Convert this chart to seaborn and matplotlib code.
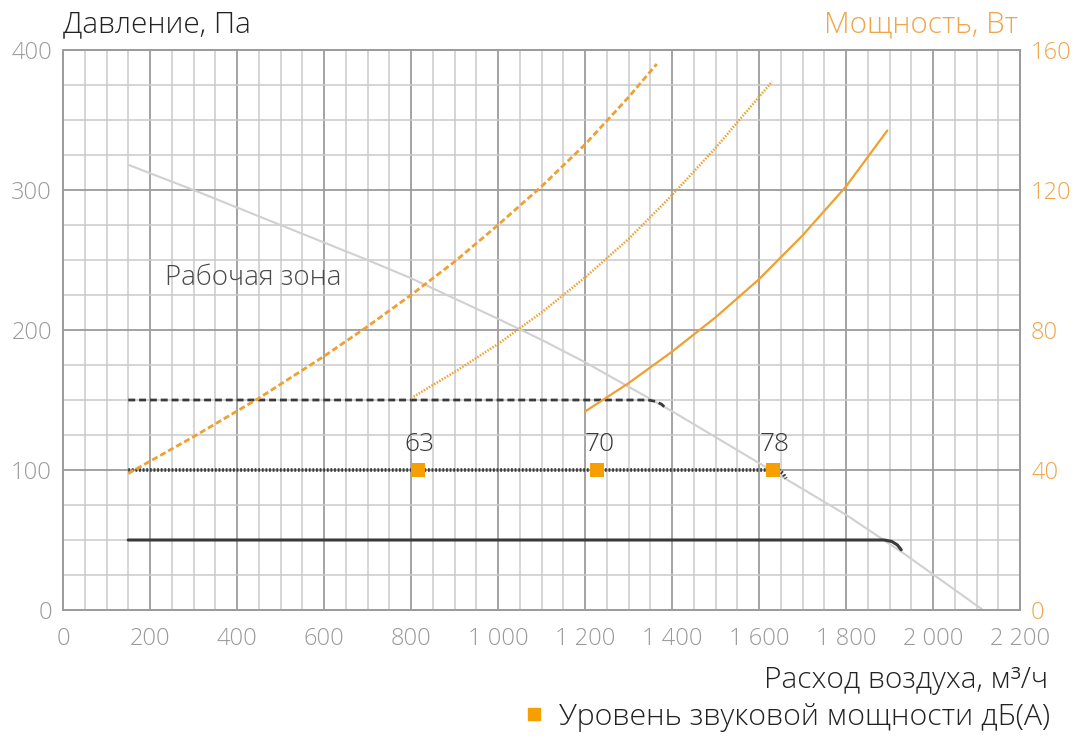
import matplotlib
matplotlib.use("Agg")
import matplotlib.pyplot as plt
from matplotlib.ticker import MultipleLocator, FuncFormatter
from matplotlib.lines import Line2D
import seaborn as sns

# Fan pressure curve (system limit), m3/h -> Pa
fan_flow = [150, 300, 500, 700, 800, 1000, 1100, 1200, 1400, 1600, 1800, 1930, 2115]
fan_pressure = [318, 300, 275, 250, 237, 208, 193, 177, 142, 105, 68, 41, 0]

# Operating points at three static pressures, Pa
op50_flow = [150, 1888, 1905, 1918, 1927]
op50_pressure = [50, 50, 49, 46.5, 43]
op100_flow = [150, 1645, 1655, 1662]
op100_pressure = [100, 100, 97.5, 94]
op150_flow = [150, 1345, 1362, 1376, 1386]
op150_pressure = [150, 150, 149, 147, 144]

# Power consumption, W
power150_flow = [150, 300, 450, 600, 700, 800, 900, 1000, 1100, 1200, 1300, 1365]
power150_watts = [39, 49.5, 60.5, 72.5, 81, 90, 99.5, 110, 121, 133, 146.5, 156]
power100_flow = [800, 900, 1000, 1100, 1200, 1300, 1400, 1500, 1630]
power100_watts = [60.5, 68, 76, 85, 95, 106, 118.5, 132, 151]
power50_flow = [1200, 1300, 1400, 1500, 1600, 1700, 1800, 1895]
power50_watts = [56.7, 64.8, 73.8, 83.6, 94.5, 107, 121, 137]

# Sound power level points, dB(A)
sound_flow = [815, 1228, 1632]
sound_pressure = [100, 100, 100]
sound_level = [63, 70, 78]

ORANGE = "#F0A030"
ORANGE_TXT = "#EFA54A"
DARK = "#3a3a3a"
TICK_GRAY = "#9a9a9a"

sns.set_theme(style="white")
plt.rcParams["font.family"] = ["Open Sans", "DejaVu Sans"]
plt.rcParams["font.weight"] = "light"

fig, ax = plt.subplots(figsize=(10.83, 7.36), dpi=100)
fig.subplots_adjust(left=63 / 1083, right=1020 / 1083, bottom=1 - 610 / 736, top=1 - 50 / 736)
ax2 = ax.twinx()

ax.set_xlim(0, 2200)
ax.set_ylim(0, 400)
ax2.set_ylim(0, 160)

ax.xaxis.set_major_locator(MultipleLocator(200))
ax.xaxis.set_minor_locator(MultipleLocator(50))
ax.yaxis.set_major_locator(MultipleLocator(100))
ax.yaxis.set_minor_locator(MultipleLocator(25))
ax2.yaxis.set_major_locator(MultipleLocator(40))

ax.grid(which="major", color="#9c9c9c", lw=1.3)
ax.grid(which="minor", color="#cacaca", lw=1.1)
ax.set_axisbelow(True)
ax2.grid(False)

for a in (ax, ax2):
    for s in a.spines.values():
        s.set_color("#9c9c9c")
        s.set_linewidth(1.3)
    a.tick_params(which="both", length=0)

ax.xaxis.set_major_formatter(FuncFormatter(lambda v, p: f"{int(v):,}".replace(",", " ")))
ax.tick_params(axis="x", labelsize=17, labelcolor=TICK_GRAY, pad=12)
ax.tick_params(axis="y", labelsize=17, labelcolor=TICK_GRAY, pad=8)
ax2.tick_params(axis="y", labelsize=17, labelcolor=ORANGE_TXT, pad=8)
ax.set_xlabel("")
ax.set_ylabel("")
ax2.set_ylabel("")

# Fan curve
sns.lineplot(x=fan_flow, y=fan_pressure, ax=ax, color="#d0d0d0", lw=1.5, estimator=None, sort=False)

# Operating curves
sns.lineplot(x=op50_flow, y=op50_pressure, ax=ax, color=DARK, lw=2.2, estimator=None, sort=False)
sns.lineplot(x=op100_flow, y=op100_pressure, ax=ax, color=DARK, lw=2.6,
             linestyle=(0, (0.5, 0.5)), estimator=None, sort=False)
sns.lineplot(x=op150_flow, y=op150_pressure, ax=ax, color=DARK, lw=2.0,
             linestyle=(0, (2.5, 1.4)), estimator=None, sort=False)

# Power curves on the right axis
sns.lineplot(x=power150_flow, y=power150_watts, ax=ax2, color=ORANGE, lw=2.0,
             linestyle=(0, (2.2, 1.1)), estimator=None, sort=False)
sns.lineplot(x=power100_flow, y=power100_watts, ax=ax2, color=ORANGE, lw=1.8,
             linestyle=(0, (0.6, 0.6)), estimator=None, sort=False)
sns.lineplot(x=power50_flow, y=power50_watts, ax=ax2, color=ORANGE, lw=1.6, estimator=None, sort=False)

# Sound power markers and labels
sns.scatterplot(x=sound_flow, y=sound_pressure, ax=ax, color="#F5A000", marker="s", s=95,
                linewidth=0, zorder=5)
for fx, fy, lv in zip(sound_flow, sound_pressure, sound_level):
    ax.text(fx + 5, fy + 18, str(lv), ha="center", va="center", fontsize=19, color="#3a3a3a")

ax.text(235, 237, "Рабочая зона", ha="left", va="center", fontsize=20, color="#4a4a4a")

fig.text(63 / 1083, 1 - 25 / 736, "Давление, Па", ha="left", va="center", fontsize=21.4, color="#222222")
fig.text(1018 / 1083, 1 - 25 / 736, "Мощность, Вт", ha="right", va="center", fontsize=21.3,
         color=ORANGE_TXT)
fig.text(1048 / 1083, 1 - 680 / 736, "Расход воздуха, м³/ч", ha="right", va="center", fontsize=21.5,
         color="#222222")

handle = Line2D([], [], marker="s", color="#F5A000", linestyle="none", markersize=8)
fig.legend(handles=[handle], labels=["Уровень звуковой мощности дБ(А)"], loc="center right",
           bbox_to_anchor=(1077 / 1083, 1 - 717 / 736), frameon=False, fontsize=21.8,
           handletextpad=0.3, handlelength=1.0, labelcolor="#222222")

fig.savefig("out.png", dpi=100)
